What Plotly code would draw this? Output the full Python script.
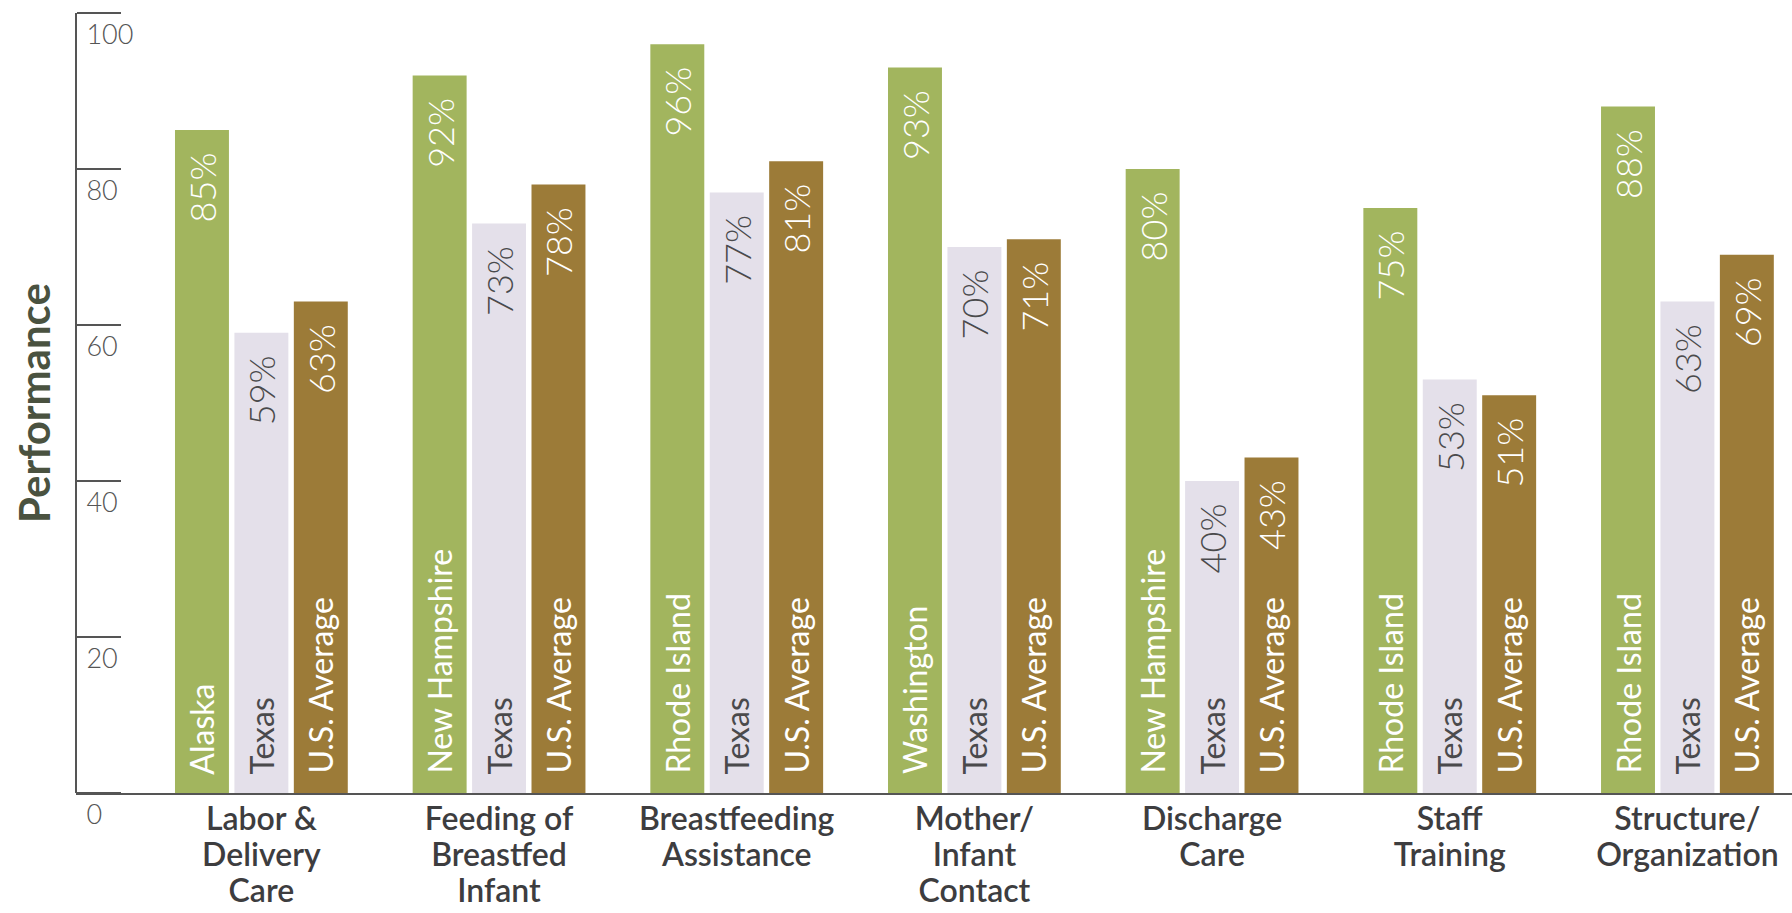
import plotly.graph_objects as go

categories = ["Labor &<br>Delivery<br>Care", "Feeding of<br>Breastfed<br>Infant",
              "Breastfeeding<br>Assistance", "Mother/<br>Infant<br>Contact",
              "Discharge<br>Care", "Staff<br>Training", "Structure/<br>Organization"]
best_states = ["Alaska", "New Hampshire", "Rhode Island", "Washington",
               "New Hampshire", "Rhode Island", "Rhode Island"]
best_values = [85, 92, 96, 93, 80, 75, 88]
texas_values = [59, 73, 77, 70, 40, 53, 63]
us_values = [63, 78, 81, 71, 43, 51, 69]
y_ticks = [0, 20, 40, 60, 80, 100]

GREEN = "#a2b55e"
LAV = "#e4e0ea"
BROWN = "#9c7b38"
DARK = "#4a4a4c"
PAD = "\u00a0\u00a0"

W = 0.227
series = [
    (best_values, best_states, GREEN, "white", -0.3635),
    (texas_values, ["Texas"] * 7, LAV, DARK, -0.1135),
    (us_values, ["U.S. Average"] * 7, BROWN, "white", 0.1365),
]

# larger glyphs with tighter line spacing (line spacing follows base tick font size)
cat_ticktext = ["<br>".join(f"<span style='font-size:32px'>{ln}</span>" for ln in c.split("<br>"))
                for c in categories]

fig = go.Figure()
for vals, names, color, tcol, off in series:
    fig.add_trace(go.Bar(
        x=categories, y=vals, width=W, offset=off,
        marker=dict(color=color, line=dict(width=0)),
        text=[PAD + n for n in names], textposition="inside",
        insidetextanchor="start", textangle=-90,
        textfont=dict(family="Lato", size=32, color=tcol, weight=400),
        constraintext="none", cliponaxis=False, showlegend=False, hoverinfo="skip"))
    fig.add_trace(go.Bar(
        x=categories, y=vals, width=W, offset=off,
        marker=dict(color="rgba(0,0,0,0)", line=dict(width=0)),
        text=[f"{v}%" + PAD for v in vals], textposition="inside",
        insidetextanchor="end", textangle=-90,
        textfont=dict(family="Lato", size=36, color=tcol, weight=300),
        constraintext="none", showlegend=False, hoverinfo="skip"))

fig.update_layout(
    width=1792, height=913,
    margin=dict(l=76, r=0, t=13, b=120, autoexpand=False),
    barmode="overlay",
    plot_bgcolor="white", paper_bgcolor="white",
    font=dict(family="Lato", color=DARK),
    xaxis=dict(range=[-0.78, 6.44], showline=True, linecolor="#555555", linewidth=2,
               ticks="", showgrid=False, zeroline=False, automargin=False,
               tickmode="array", tickvals=categories, ticktext=cat_ticktext,
               tickfont=dict(family="Lato", size=28, color="#3d3d3f", weight=600),
               ticklabelstandoff=1),
    yaxis=dict(range=[0, 100], tickvals=y_ticks, ticktext=[str(t) for t in y_ticks],
               side="right", anchor="free", position=0, automargin=False,
               showline=True, linecolor="#555555", linewidth=2,
               ticks="outside", ticklen=44, tickwidth=2, tickcolor="#555555",
               ticklabelstandoff=-40, ticklabelshift=22,
               tickfont=dict(family="Lato", size=27, color="#555555", weight=300),
               showgrid=False, zeroline=False),
    annotations=[dict(text="Performance", xref="paper", yref="paper", x=-0.0245, y=0.5,
                      xanchor="center", yanchor="middle", textangle=-90, showarrow=False,
                      font=dict(family="Lato", size=42, color="#4a5240", weight=700))],
)

fig.write_html("out.html", config={"displayModeBar": False},
               post_script="document.body.style.margin='0';")
